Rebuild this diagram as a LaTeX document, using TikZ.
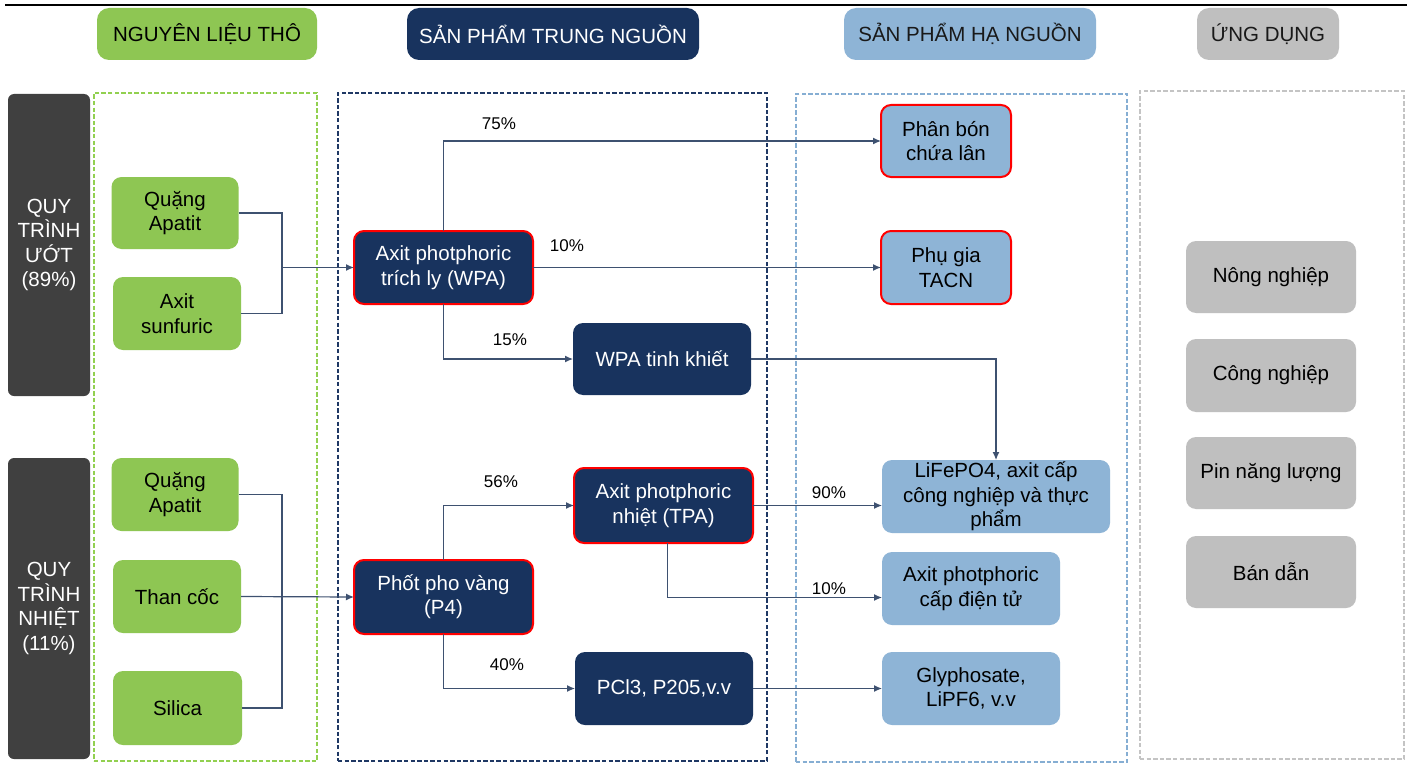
\documentclass[tikz,border=0pt]{standalone}
\usepackage{fontspec}
\setmainfont{Liberation Sans}
\usetikzlibrary{arrows.meta,calc}
\definecolor{cgreen}{HTML}{8EC653}
\definecolor{cnavy}{HTML}{18335E}
\definecolor{clblue}{HTML}{8EB4D6}
\definecolor{cgrey}{HTML}{BFBFBF}
\definecolor{cdark}{HTML}{404040}
\definecolor{cline}{HTML}{3E5170}
\definecolor{dgreen}{HTML}{92D050}
\definecolor{dnavy}{HTML}{1F3864}
\definecolor{dlblue}{HTML}{86AED3}
\definecolor{dgrey}{HTML}{C4C4C4}
\begin{document}
\begin{tikzpicture}[x=0.5pt,y=-0.5pt,
  sz/.style 2 args={minimum width=#1*0.5pt, minimum height=#2*0.5pt},
  base/.style={rounded corners=5pt, inner sep=1pt, outer sep=0pt, align=center,
    font=\fontsize{10.25}{12.2}\selectfont},
  gbox/.style={base, fill=cgreen},
  nbox/.style={base, fill=cnavy, text=white},
  lbox/.style={base, fill=clblue},
  ybox/.style={base, fill=cgrey},
  redb/.style={draw=red, line width=1pt},
  bar/.style={base, rounded corners=3pt, fill=cdark, text=white},
  cont/.style={draw, inner sep=0pt, outer sep=0pt, line width=0.75pt, dash pattern=on 2.2pt off 1.1pt},
  pct/.style={font=\fontsize{8.5}{10}\selectfont, inner sep=0pt},
  conn/.style={draw=cline, line width=0.6pt},
  arr/.style={conn, -{Latex[length=4pt,width=3.5pt]}}
]
\useasboundingbox (0,0) rectangle (1407,765);
\fill[white] (0,0) rectangle (1407,765);
\draw[line width=1.25pt] (5,5) -- (1407,5);

% headers
\node[gbox, rounded corners=6pt, sz={220}{52}] (h1) at (207,34) {NGUYÊN LIỆU THÔ};
\node[nbox, rounded corners=6pt, sz={292}{52}] (h2) at (553,34) {SẢN PHẨM TRUNG NGUỒN};
\node[lbox, rounded corners=6pt, sz={252}{52}, text=black!90] (h3) at (970,34) {SẢN PHẨM HẠ NGUỒN};
\node[ybox, rounded corners=6pt, sz={142}{52}, text=black!90] (h4) at (1268,34) {ỨNG DỤNG};

% containers
\node[cont, draw=dgreen, sz={223}{668}] (cg) at (205.5,427) {};
\node[cont, draw=dnavy, sz={429}{668}] (cn) at (552.5,427) {};
\node[cont, draw=dlblue, sz={331}{668}] (cl) at (961.5,428) {};
\node[cont, draw=dgrey, sz={264}{668}] (cy) at (1272,425) {};

% process bars
\node[bar, sz={82}{302}] (b1) at (49,245) {QUY\\TRÌNH\\ƯỚT\\(89\%)};
\node[bar, sz={82}{301}] (b2) at (49,608.5) {QUY\\TRÌNH\\NHIỆT\\(11\%)};

% raw materials
\node[gbox, sz={127}{72}] (g1) at (175,213) {Quặng\\Apatit};
\node[gbox, sz={128}{73}] (g2) at (177,313.5) {Axit\\sunfuric};
\node[gbox, sz={127}{73}] (g3) at (175,494.5) {Quặng\\Apatit};
\node[gbox, sz={128}{73}] (g4) at (177,596.5) {Than cốc};
\node[gbox, sz={129}{74}] (g5) at (177.5,708) {Silica};

% midstream
\node[nbox, redb, sz={179}{73}] (wpa) at (443.5,267.5) {Axit photphoric\\trích ly (WPA)};
\node[nbox, sz={178}{72}] (tk) at (662,359) {WPA tinh khiết};
\node[nbox, redb, sz={179}{75}] (tpa) at (663.5,505.5) {Axit photphoric\\nhiệt (TPA)};
\node[nbox, redb, sz={179}{74}] (p4) at (443.5,597) {Phốt pho vàng\\(P4)};
\node[nbox, sz={178}{73}] (pcl) at (664,688.5) {PCl3, P205,v.v};

% downstream
\node[lbox, redb, sz={130}{72}] (pb) at (946,141) {Phân bón\\chứa lân};
\node[lbox, redb, sz={130}{73}] (pg) at (946,267.5) {Phụ gia\\TACN};
\node[lbox, sz={228}{73}] (life) at (996,496.5) {LiFePO4, axit cấp\\công nghiệp và thực\\phẩm};
\node[lbox, sz={178}{73}] (dt) at (971,588.5) {Axit photphoric\\cấp điện tử};
\node[lbox, sz={178}{73}] (gly) at (971,688.5) {Glyphosate,\\LiPF6, v.v};

% applications
\node[ybox, sz={170}{72}] (a1) at (1271,277) {Nông nghiệp};
\node[ybox, sz={170}{73}] (a2) at (1271,375.5) {Công nghiệp};
\node[ybox, sz={170}{72}] (a3) at (1271,473) {Pin năng lượng};
\node[ybox, sz={170}{72}] (a4) at (1271,572) {Bán dẫn};

% junctions
\coordinate (j1) at (282,267.5);
\coordinate (j2) at (282,597);

% connectors
\draw[conn] (g1.east) -| (j1);
\draw[conn] (g2.east) -| (j1);
\draw[arr] (j1) -- (wpa.west);
\draw[arr] (wpa.north) |- (pb.west);
\draw[arr] (wpa.east) -- (pg.west);
\draw[arr] (wpa.south) |- (tk.west);
\draw[arr] (tk.east) -| (life.north);

\draw[conn] (g3.east) -| (j2);
\draw[conn] (g5.east) -| (j2);
\draw[arr] (g4.east) -- (p4.west);
\draw[arr] (p4.north) |- (tpa.west);
\draw[arr] (p4.south) |- (pcl.west);
\draw[arr] (tpa.east) -- (tpa.east -| life.west);
\draw[arr] ([xshift=2pt]tpa.south) |- ([yshift=-4.5pt]dt.west);
\draw[arr] (pcl.east) -- (gly.west);

% percentages
\node[pct] (l75) at (499,124) {75\%};
\node[pct] (l10a) at (567,246) {10\%};
\node[pct] (l15) at (510,340) {15\%};
\node[pct] (l56) at (501,482) {56\%};
\node[pct] (l40) at (507,665) {40\%};
\node[pct] (l90) at (829,493) {90\%};
\node[pct] (l10b) at (829,589) {10\%};
\end{tikzpicture}
\end{document}
